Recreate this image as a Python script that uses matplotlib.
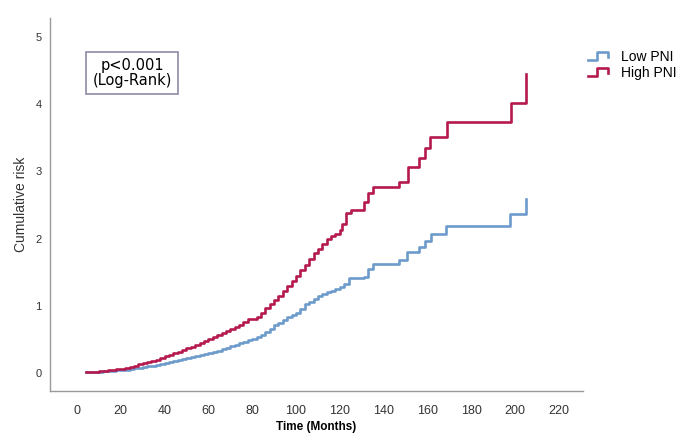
import matplotlib
matplotlib.use("Agg")
import matplotlib.pyplot as plt
from matplotlib.lines import Line2D
from matplotlib.legend_handler import HandlerBase

plt.rcParams['font.family'] = ['Liberation Sans', 'DejaVu Sans']

# ---------------- data ----------------
high_t = [4, 6, 8, 10, 12, 14, 16, 18, 20, 22, 24, 26, 28, 30, 32, 34, 36, 38, 40, 42,
          44, 46, 48, 50, 52, 54, 56, 58, 60, 62, 64, 66, 68, 70, 72, 74, 76, 78, 80, 82,
          84, 86, 88, 90, 92, 94, 96, 98, 100, 102, 104, 106, 108, 110, 112, 114, 116,
          118, 120, 121, 123, 125, 131, 133, 135, 147, 151, 156, 159, 161, 169, 198, 205]
high_risk = [0.01, 0.015, 0.02, 0.025, 0.03, 0.04, 0.045, 0.055, 0.065, 0.075, 0.09, 0.11,
             0.13, 0.145, 0.16, 0.18, 0.20, 0.225, 0.25, 0.27, 0.295, 0.32, 0.34, 0.37,
             0.39, 0.42, 0.45, 0.47, 0.50, 0.53, 0.56, 0.59, 0.62, 0.65, 0.69, 0.72, 0.76,
             0.80, 0.81, 0.84, 0.90, 0.97, 1.03, 1.09, 1.15, 1.22, 1.29, 1.37, 1.45, 1.53,
             1.61, 1.70, 1.78, 1.84, 1.92, 2.00, 2.04, 2.07, 2.13, 2.22, 2.38, 2.42, 2.55,
             2.68, 2.77, 2.84, 3.07, 3.20, 3.35, 3.51, 3.73, 4.02, 4.45]

low_t = [4, 6, 8, 10, 12, 14, 16, 18, 20, 22, 24, 26, 28, 30, 32, 34, 36, 38, 40, 42,
         44, 46, 48, 50, 52, 54, 56, 58, 60, 62, 64, 66, 68, 70, 72, 74, 76, 78, 80, 82,
         84, 86, 88, 90, 92, 94, 96, 98, 100, 102, 104, 106, 108, 110, 112, 114, 116,
         118, 120, 122, 124, 126, 131, 133, 135, 147, 150.5, 156, 159, 161.6, 168.5,
         197.7, 205]
low_risk = [0.01, 0.012, 0.015, 0.02, 0.025, 0.03, 0.035, 0.04, 0.045, 0.05, 0.06, 0.07,
            0.08, 0.09, 0.10, 0.11, 0.125, 0.14, 0.15, 0.165, 0.18, 0.19, 0.205, 0.22,
            0.235, 0.25, 0.265, 0.28, 0.295, 0.315, 0.335, 0.355, 0.375, 0.395, 0.415,
            0.44, 0.465, 0.485, 0.50, 0.53, 0.56, 0.61, 0.66, 0.71, 0.75, 0.79, 0.83,
            0.86, 0.90, 0.96, 1.02, 1.06, 1.10, 1.14, 1.17, 1.20, 1.22, 1.25, 1.28, 1.32,
            1.41, 1.42, 1.43, 1.55, 1.62, 1.68, 1.80, 1.87, 1.96, 2.07, 2.19, 2.37, 2.59]

x_ticks = [0, 20, 40, 60, 80, 100, 120, 140, 160, 180, 200, 220]
y_ticks = [0, 1, 2, 3, 4, 5]

low_color = '#6d9bcb'
high_color = '#b5194f'


# step shaped legend glyph like SPSS
class StepHandler(HandlerBase):
    def create_artists(self, legend, orig_handle, xdescent, ydescent,
                       width, height, fontsize, trans):
        x0 = -xdescent
        y0 = -ydescent + height * 0.15
        y1 = -ydescent + height * 0.95
        xs = [x0, x0 + width * 0.4, x0 + width * 0.4, x0 + width * 0.85, x0 + width * 0.85]
        ys = [y0, y0, y1, y1, y0 + height * 0.3]
        ln = Line2D(xs, ys, color=orig_handle.get_color(), lw=orig_handle.get_linewidth())
        ln.set_transform(trans)
        return [ln]


fig = plt.figure(figsize=(6.85, 4.43), dpi=100)
ax = fig.add_axes([0.073, 0.117, 0.778, 0.842])

l1, = ax.plot(low_t, low_risk, drawstyle='steps-post', color=low_color, lw=1.9, label='Low PNI')
l2, = ax.plot(high_t, high_risk, drawstyle='steps-post', color=high_color, lw=1.9, label='High PNI')

ax.set_xlim(-12.3, 231)
ax.set_ylim(-0.27, 5.28)
ax.set_xticks(x_ticks)
ax.set_yticks(y_ticks)
ax.tick_params(axis='x', length=0, labelsize=9, colors='#333333', pad=10)
ax.tick_params(axis='y', length=0, labelsize=8, colors='#333333', pad=6)
for s in ['top', 'right']:
    ax.spines[s].set_visible(False)
for s in ['left', 'bottom']:
    ax.spines[s].set_color('#999999')
    ax.spines[s].set_linewidth(1.0)

ax.set_xlabel('Time (Months)', fontsize=8.5, fontweight='bold', labelpad=3)
ax.set_ylabel('Cumulative risk', fontsize=10, color='#333333', labelpad=5)

ax.text(0.154, 0.853, 'p<0.001\n(Log-Rank)', transform=ax.transAxes, ha='center', va='center',
        fontsize=10.5, linespacing=0.95, family=['DejaVu Sans'],
        bbox=dict(boxstyle='square,pad=0.45', fc='white', ec='#8f8aa6', lw=1.2))

leg = fig.legend([l1, l2], ['Low PNI', 'High PNI'], loc='upper left',
                 bbox_to_anchor=(0.84, 0.915), frameon=False, fontsize=10,
                 handler_map={Line2D: StepHandler()}, handlelength=1.7,
                 handletextpad=0.7, labelspacing=0.15)

fig.savefig('out.png', dpi=100)
